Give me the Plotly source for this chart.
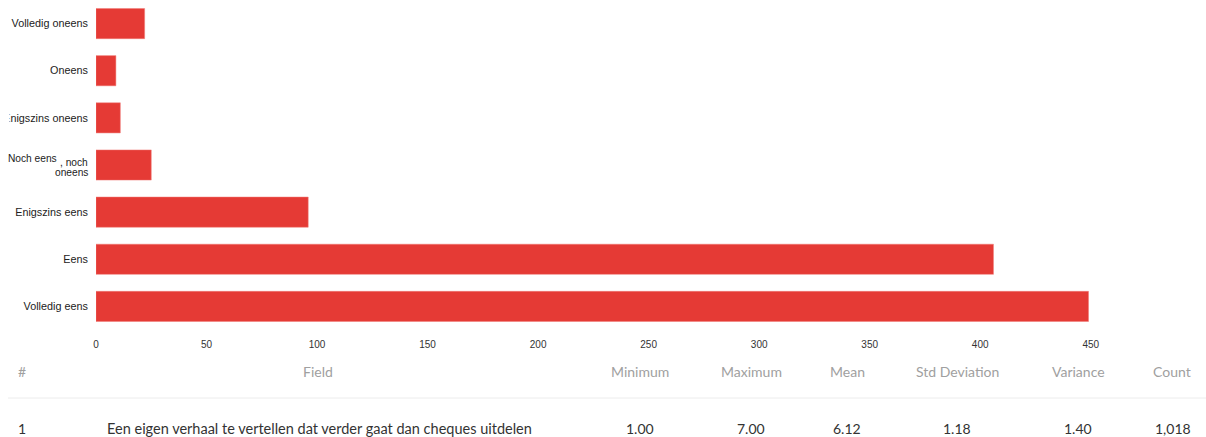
import plotly.graph_objects as go

# Response categories (top to bottom) and their counts
categories = [
    "Volledig oneens",
    "Oneens",
    "Enigszins oneens",
    "Noch eens, noch oneens",
    "Enigszins eens",
    "Eens",
    "Volledig eens",
]
tick_labels = [
    "Volledig oneens",
    "Oneens",
    "Enigszins oneens",
    "",  # drawn as a wrapped label below
    "Enigszins eens",
    "Eens",
    "Volledig eens",
]
counts = [22, 9, 11, 25, 96, 406, 449]

# Summary statistics table
stat_headers = ["#", "Field", "Minimum", "Maximum", "Mean", "Std Deviation", "Variance", "Count"]
stat_values = ["1", "Een eigen verhaal te vertellen dat verder gaat dan cheques uitdelen",
               "1.00", "7.00", "6.12", "1.18", "1.40", "1,018"]

W, H = 1206, 437
PLOT_L, PLOT_T, PLOT_B = 96, 0, 330
X_MAX = 475
PX_PER_UNIT = 2.21
PLOT_W = round(X_MAX * PX_PER_UNIT)
PLOT_R = PLOT_L + PLOT_W
LABEL_FONT = dict(family="Liberation Sans, Arial", size=10.8, color="#222222")
WRAP_FONT = dict(family="Liberation Sans, Arial", size=10.2, color="#222222")

fig = go.Figure(
    go.Bar(
        x=counts,
        y=categories,
        orientation="h",
        width=0.64,
        marker=dict(color="#e53a35", line=dict(color="#f07a76", width=0.5)),
        hoverinfo="x+y",
    )
)

fig.update_xaxes(
    range=[0, X_MAX],
    tickvals=[0, 50, 100, 150, 200, 250, 300, 350, 400, 450],
    showgrid=False,
    zeroline=False,
    showline=False,
    ticks="outside",
    ticklen=5,
    tickcolor="rgba(0,0,0,0)",
    tickfont=dict(family="Liberation Sans, Arial", size=10, color="#333333"),
    automargin=False,
)
fig.update_yaxes(
    categoryorder="array",
    categoryarray=categories,
    autorange="reversed",
    tickvals=categories,
    ticktext=tick_labels,
    showgrid=False,
    zeroline=False,
    showline=False,
    ticks="outside",
    ticklen=5,
    tickcolor="rgba(0,0,0,0)",
    tickfont=LABEL_FONT,
    automargin=False,
)


def px_x(px):
    return (px - PLOT_L) / PLOT_W


def px_y(py):
    return (PLOT_B - py) / (PLOT_B - PLOT_T)


annotations = []

# Wrapped label for the neutral category
for text, right_px, cy in [("Noch eens", 59, 158), (", noch", 90, 162), ("oneens", 89.5, 172)]:
    annotations.append(dict(
        x=px_x(right_px), y=px_y(cy), xref="paper", yref="paper",
        text=text, showarrow=False, xanchor="right", yanchor="middle",
        font=WRAP_FONT,
    ))

header_x = [22, 318, 640, 751, 847, 957, 1078, 1172]
value_x = [22, 319, 640, 751, 847, 957, 1078, 1173]

for text, cx in zip(stat_headers, header_x):
    annotations.append(dict(
        x=px_x(cx), y=px_y(371), xref="paper", yref="paper",
        text=text, showarrow=False, xanchor="center", yanchor="middle",
        font=dict(family="Lato", size=14, color="#a0a0a0"),
    ))
for i, (text, cx) in enumerate(zip(stat_values, value_x)):
    annotations.append(dict(
        x=px_x(cx), y=px_y(428), xref="paper", yref="paper",
        text=text, showarrow=False, xanchor="center", yanchor="middle",
        font=dict(family="Lato", size=14.5 if i == 1 else 14, color="#333333"),
    ))

fig.update_layout(
    width=W,
    height=H,
    margin=dict(l=PLOT_L, r=W - PLOT_R, t=PLOT_T, b=H - PLOT_B, pad=0),
    paper_bgcolor="white",
    plot_bgcolor="white",
    showlegend=False,
    annotations=annotations,
    shapes=[
        # label column is clipped at its left edge
        dict(
            type="rect", xref="paper", yref="paper", layer="above",
            x0=px_x(0), x1=px_x(9.5), y0=px_y(128), y1=px_y(108),
            fillcolor="white", line=dict(width=0),
        ),
        # table header separator
        dict(
            type="line", xref="paper", yref="paper",
            x0=px_x(8), x1=px_x(1206), y0=px_y(398), y1=px_y(398),
            line=dict(color="#ececec", width=1),
        ),
    ],
)

fig.write_html("out.html")
